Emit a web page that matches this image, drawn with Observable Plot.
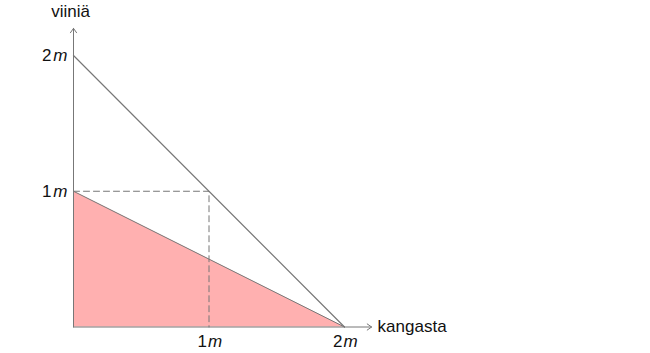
<!DOCTYPE html>
<html>
<head>
<meta charset="utf-8">
<script src="https://cdn.jsdelivr.net/npm/d3@7"></script>
<script src="https://cdn.jsdelivr.net/npm/@observablehq/plot@0.6"></script>
<style>
  html, body { margin: 0; padding: 0; background: #fff; }
  svg { font-family: "Liberation Sans", Arial, sans-serif; }
</style>
</head>
<body>
<div id="chart"></div>
<script>
// Budget line: 2m of wine or 2m of fabric
const budgetLine = [{x: 0, y: 2}, {x: 2, y: 0}];
// Upper edge of the shaded feasible region (shaded down to y = 0)
const regionEdge = [{x: 0, y: 1}, {x: 2, y: 0}];
// Dashed guide through the point (1, 1)
const guide = [{x: 0, y: 1}, {x: 1, y: 1}, {x: 1, y: 0}];
// Tick labels
const xTicks = [{v: 1, n: "1"}, {v: 2, n: "2"}];
const yTicks = [{v: 1, n: "1"}, {v: 2, n: "2"}];
const unitLabel = "m";
const xLabel = "kangasta";
const yLabel = "viiniä";
const axisEnd = 2.2;

const grey = "#777";

const chart = Plot.plot({
  width: 650,
  height: 353,
  margin: 0,
  x: {domain: [0, 2], range: [73, 344], axis: null},
  y: {domain: [0, 2], range: [326.5, 55], axis: null},
  style: {fontSize: "17px", fontFamily: "'Liberation Sans', Arial, sans-serif", color: "#111"},
  marks: [
    Plot.areaY(regionEdge, {x: "x", y: "y", fill: "#ffb0b0", fillOpacity: 1}),
    Plot.line(regionEdge, {x: "x", y: "y", stroke: grey, strokeWidth: 1}),
    Plot.line(guide, {x: "x", y: "y", stroke: grey, strokeWidth: 1, strokeDasharray: "6,4"}),
    Plot.line(budgetLine, {x: "x", y: "y", stroke: grey, strokeWidth: 1.2}),
    Plot.arrow([{a: 0, b: 0, c: axisEnd, d: 0}], {x1: "a", y1: "b", x2: "c", y2: "d", stroke: grey, strokeWidth: 1, headLength: 8, headAngle: 70}),
    Plot.arrow([{a: 0, b: 0, c: 0, d: axisEnd}], {x1: "a", y1: "b", x2: "c", y2: "d", stroke: grey, strokeWidth: 1, headLength: 8, headAngle: 70}),
    // x tick labels
    Plot.text(xTicks, {x: "v", y: () => 0, text: "n", textAnchor: "end", dx: -2, dy: 15, fill: "#111"}),
    Plot.text(xTicks, {x: "v", y: () => 0, text: () => unitLabel, textAnchor: "start", dx: -1, dy: 15, fontStyle: "italic", fill: "#111"}),
    // y tick labels
    Plot.text(yTicks, {x: () => 0, y: "v", text: "n", textAnchor: "end", dx: -22, fill: "#111"}),
    Plot.text(yTicks, {x: () => 0, y: "v", text: () => unitLabel, textAnchor: "end", dx: -6, fontStyle: "italic", fill: "#111"}),
    // axis labels
    Plot.text([xLabel], {x: () => axisEnd, y: () => 0, text: d => d, textAnchor: "start", dx: 6, fill: "#111"}),
    Plot.text([yLabel], {x: () => 0, y: () => axisEnd, text: d => d, textAnchor: "middle", dy: -17, dx: -3, fill: "#111"})
  ]
});
document.getElementById("chart").appendChild(chart);
</script>
</body>
</html>
